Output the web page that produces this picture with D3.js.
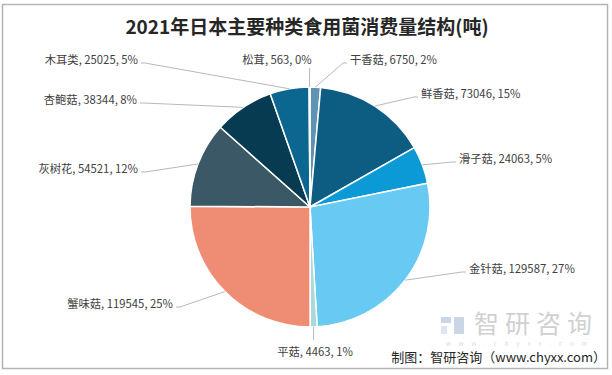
<!DOCTYPE html>
<html>
<head>
<meta charset="utf-8">
<script src="https://cdn.jsdelivr.net/npm/d3@7"></script>
<style>
  body { margin: 0; background: #fff; }
  text { font-family: "Noto Sans CJK SC", "Noto Sans", sans-serif; }
</style>
</head>
<body>
<script>
// data
let names = ['干香菇', '鲜香菇', '滑子菇', '金针菇', '平菇', '蟹味菇', '灰树花', '杏鲍菇', '木耳类', '松茸']
let values = [6750, 73046, 24063, 129587, 4463, 119545, 54521, 38344, 25025, 563]
let pcts = ['2%', '15%', '5%', '27%', '1%', '25%', '12%', '8%', '5%', '0%']
let colors = ['#5f93b4', '#0d5d83', '#0b9ad6', '#68c9f2', '#a6dadb', '#ee8d74', '#3a5866', '#073b52', '#0b6690', '#a9cfe0']

// where Excel put each label: text x, text middle y, anchor
let labelAt = [
    [350, 60, 'start'],
    [421, 94, 'start'],
    [459, 159, 'start'],
    [469, 269, 'start'],
    [315, 352, 'middle'],
    [173, 304, 'end'],
    [138, 169, 'end'],
    [137, 100, 'end'],
    [138, 60, 'end'],
    [277, 60, 'middle']
]

const W = 612, H = 375
const CX = 310, CY = 207, R = 120

let svg = d3.select('body').append('svg')
    .attr('width', W)
    .attr('height', H)

svg.append('rect')
    .attr('x', 2.5).attr('y', 4.5)
    .attr('width', 605).attr('height', 364)
    .style('fill', '#fff')
    .style('stroke', '#b4b4b4')
    .style('stroke-width', 1.5)

svg.append('text')
    .attr('x', 307).attr('y', 34)
    .attr('text-anchor', 'middle')
    .style('font-size', '19px')
    .style('font-weight', 'bold')
    .style('fill', '#262626')
    .text('2021年日本主要种类食用菌消费量结构(吨)')

let rows = names.map((n, i) => ({name: n, value: values[i], pct: pcts[i]}))

let pie = d3.pie().sort(null).value(d => d.value)
let arcs = pie(rows)
let arc = d3.arc().innerRadius(0).outerRadius(R)

let g = svg.append('g').attr('transform', `translate(${CX},${CY})`)

g.selectAll('.slice')
    .data(arcs)
    .join('path')
    .classed('slice', true)
    .attr('d', arc)
    .style('fill', (d, i) => colors[i])
    .style('stroke', '#fff')
    .style('stroke-width', 1.5)

// watermark
let wm = svg.append('g').style('opacity', 0.35)
wm.append('rect').attr('x', 441).attr('y', 317).attr('width', 10).attr('height', 6).style('fill', '#6a8cc0')
wm.append('rect').attr('x', 441).attr('y', 326).attr('width', 6).attr('height', 8).style('fill', '#9fb6d8')
wm.append('rect').attr('x', 454).attr('y', 317).attr('width', 10).attr('height', 17).style('fill', '#6a8cc0')
wm.append('text')
    .attr('x', 474).attr('y', 333)
    .style('font-size', '25px')
    .style('fill', '#7a7a7a')
    .style('letter-spacing', '6px')
    .text('智研咨询')
wm.append('text')
    .attr('x', 446).attr('y', 345.5)
    .style('font-size', '6px')
    .style('fill', '#999')
    .style('letter-spacing', '8px')
    .text('www.chyxx.com')

// leader lines
let midPt = (d) => {
    let a = (d.startAngle + d.endAngle) / 2
    return [CX + R * Math.sin(a), CY - R * Math.cos(a)]
}

svg.selectAll('.leader')
    .data(arcs)
    .join('polyline')
    .classed('leader', true)
    .attr('points', (d, i) => {
        let p = midPt(d)
        let [x, y, anc] = labelAt[i]
        if (anc == 'middle') {
            let ty = y < CY ? y + 8 : y - 12
            return [[p[0], p[1]], [p[0], ty]].join(' ')
        }
        let ex = anc == 'start' ? x - 3 : x + 3
        let hx = anc == 'start' ? ex - 4 : ex + 4
        return [[p[0], p[1]], [hx, y + 3], [ex, y + 3]].join(' ')
    })
    .style('fill', 'none')
    .style('stroke', '#a6a6a6')
    .style('stroke-width', 0.8)

svg.selectAll('.label')
    .data(arcs)
    .join('text')
    .classed('label', true)
    .attr('x', (d, i) => labelAt[i][0])
    .attr('y', (d, i) => labelAt[i][1])
    .attr('dy', '0.35em')
    .attr('text-anchor', (d, i) => labelAt[i][2])
    .style('font-size', '11.3px')
    .style('fill', '#404040')
    .text(d => `${d.data.name}, ${d.data.value}, ${d.data.pct}`)

svg.append('text')
    .attr('x', 606).attr('y', 362)
    .attr('text-anchor', 'end')
    .style('font-size', '13px')
    .style('fill', '#262626')
    .text('制图：智研咨询（www.chyxx.com）')
</script>
</body>
</html>
